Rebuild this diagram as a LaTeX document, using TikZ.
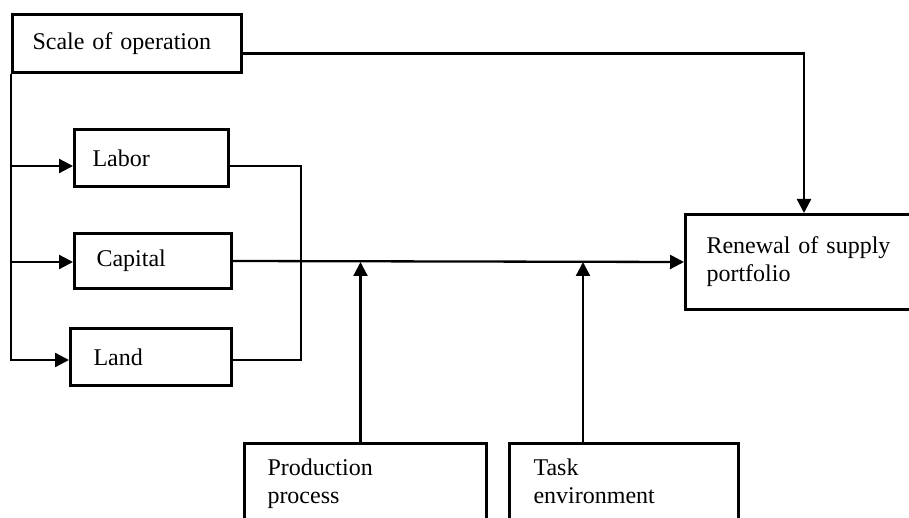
\documentclass[tikz,border=0pt]{standalone}
\usepackage{fontspec}
\setmainfont{Liberation Serif}
\usepackage{tikz}
\usetikzlibrary{arrows.meta}
\tikzstyle{block} = [draw, rectangle, line width=3pt, anchor=north west,
    align=left, font=\fontsize{24}{28}\selectfont]
\tikzstyle{link} = [line width=2.3pt]
\tikzstyle{thinlink} = [line width=1.4pt]

\begin{document}
\begin{tikzpicture}[x=1pt, y=-1pt, >={Triangle[length=14pt,width=14pt]}]
    \useasboundingbox (0,0) rectangle (909,518);
    \clip (0,0) rectangle (909,518);
    \node [block, text width=189pt, inner xsep=20pt, minimum height=58pt] (scale) at (11,13) {Scale of operation};
    \node [block, text width=118pt, inner xsep=18pt, minimum height=57pt] (labor) at (73,128) {Labor};
    \node [block, text width=113pt, inner xsep=22pt, minimum height=55pt] (capital) at (73,232) {Capital};
    \node [block, text width=115pt, inner xsep=23pt, minimum height=57pt] (land) at (69,327) {Land};
    \node [block, text width=198pt, inner xsep=21pt, minimum height=95pt] (renewal) at (684,213) {Renewal of supply\\portfolio};
    \node [block, text width=196pt, inner xsep=23pt, minimum height=84pt] (production) at (243,442) {Production\\process\strut};
    \node [block, text width=181pt, inner xsep=24pt, minimum height=84pt] (task) at (508,442) {Task\\environment\strut};
    % inputs fed from the scale of operation
    \coordinate (laborin) at ([yshift=-8pt]labor.west);
    \coordinate (capitalin) at ([yshift=-1pt]capital.west);
    \coordinate (landin) at ([yshift=-3pt]land.west);
    \draw [link,->] (scale.south west) |- (landin);
    \draw [link,->] (scale.south west |- laborin) -- (laborin);
    \draw [link,->] (scale.south west |- capitalin) -- (capitalin);
    \draw [link,->] ([yshift=-10pt]scale.east) -| ([xshift=120pt]renewal.north west);
    % labor and land join the capital line
    \coordinate (bend) at (301,0);
    \draw [thinlink] ([yshift=-8pt]labor.east) -| (bend |- landin) -- (land.east |- landin);
    \draw [link,->] (capital.east) -- (renewal.west);
    % moderators from below
    \coordinate (pp) at ([xshift=-5pt]production.north);
    \coordinate (te) at ([xshift=-41pt]task.north);
    \draw [link,->] (pp) -- (pp |- renewal.west);
    \draw [link,->] (te) -- (te |- renewal.west);
\end{tikzpicture}
\end{document}
